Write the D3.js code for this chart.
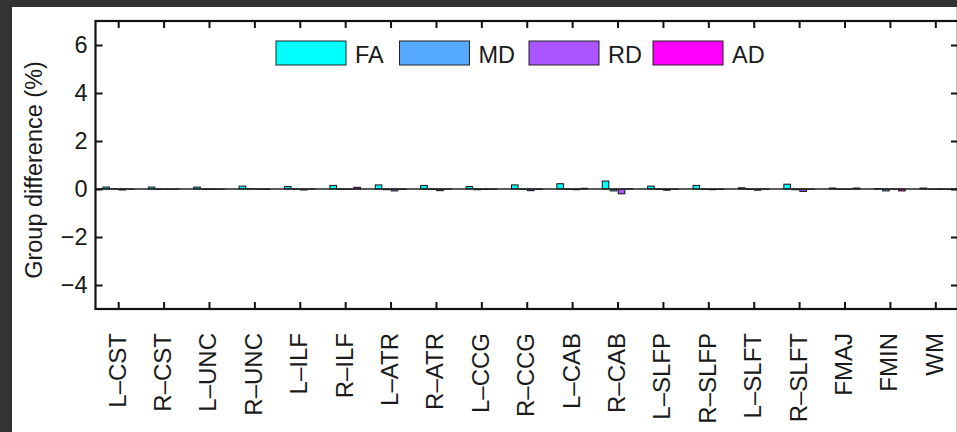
<!DOCTYPE html>
<html>
<head>
<meta charset="utf-8">
<script src="https://cdn.jsdelivr.net/npm/d3@7"></script>
<style>
  body { margin: 0; background: #333; }
  svg { display: block; font-family: "Liberation Sans", Arial, sans-serif; }
</style>
</head>
<body>
<div id="chart"></div>
<script>
// tract names along the x axis
var categories = ["L\u2013CST","R\u2013CST","L\u2013UNC","R\u2013UNC","L\u2013ILF","R\u2013ILF","L\u2013ATR","R\u2013ATR",
  "L\u2013CCG","R\u2013CCG","L\u2013CAB","R\u2013CAB","L\u2013SLFP","R\u2013SLFP","L\u2013SLFT","R\u2013SLFT","FMAJ","FMIN","WM"];

// group differences (%)
var faVals = [0.08, 0.08, 0.08, 0.12, 0.10, 0.15, 0.17, 0.15, 0.10, 0.17, 0.22, 0.33, 0.12, 0.15, 0.05, 0.20, 0.04, 0.02, 0.04];
var mdVals = [0.01, -0.02, -0.02, 0.01, -0.01, -0.02, -0.03, -0.02, -0.03, -0.02, -0.02, -0.08, -0.02, -0.02, -0.02, -0.03, -0.01, -0.08, -0.01];
var rdVals = [-0.04, -0.01, -0.02, -0.01, -0.04, -0.01, -0.08, -0.07, -0.02, -0.07, -0.03, -0.20, -0.05, -0.03, -0.05, -0.10, -0.01, -0.01, -0.02];
var adVals = [-0.01, -0.01, -0.01, -0.02, -0.01, 0.07, -0.02, -0.01, -0.01, -0.02, 0.03, 0.01, -0.01, -0.02, -0.01, -0.01, 0.04, -0.08, -0.01];

var seriesNames = ["FA", "MD", "RD", "AD"];
var seriesColors = ["#00ffff", "#55aaff", "#aa55ff", "#ff00ff"];
var yTicks = [-4, -2, 0, 2, 4, 6];

var series = [faVals, mdVals, rdVals, adVals];

var W = 957, H = 432;
var plotL = 95.5, plotR = 958, plotT = 21, plotB = 309;

var svg = d3.select("#chart").append("svg")
  .attr("width", W)
  .attr("height", H);

// dark frame + white panel
svg.append("rect").attr("width", W).attr("height", H).attr("fill", "#333");
svg.append("rect").attr("x", 12).attr("y", 7).attr("width", W - 12).attr("height", H - 7).attr("fill", "#fff");
svg.append("line").attr("x1", 956.5).attr("x2", 956.5).attr("y1", 7).attr("y2", H)
  .attr("stroke", "#ccc").attr("stroke-width", 1);

var x = d3.scaleLinear().domain([0.5, 19.5]).range([plotL, plotR]);
var y = d3.scaleLinear().domain([-5, 7]).range([plotB, plotT]);

var unit = x(1) - x(0);
var barW = 0.145 * unit;
var offsets = [-0.264, -0.088, 0.088, 0.264];

// bars
series.forEach(function(vals, s) {
  svg.append("g")
    .selectAll("rect")
    .data(vals)
    .enter().append("rect")
      .attr("x", function(d, i) { return x(i + 1 + offsets[s]) - barW / 2; })
      .attr("y", function(d) { return y(Math.max(0, d)); })
      .attr("width", barW)
      .attr("height", function(d) { return Math.abs(y(d) - y(0)); })
      .attr("fill", seriesColors[s])
      .attr("stroke", "#111")
      .attr("stroke-width", 1);
});

// baseline
svg.append("line")
  .attr("x1", plotL).attr("x2", plotR)
  .attr("y1", y(0)).attr("y2", y(0))
  .attr("stroke", "#222").attr("stroke-width", 1.5);

var idx = d3.range(1, categories.length + 1);

// left axis
var yAxis = d3.axisLeft(y).tickValues(yTicks).tickSizeInner(-7).tickSizeOuter(0).tickPadding(8);
var gy = svg.append("g").attr("transform", "translate(" + plotL + ",0)").call(yAxis);

// right axis, ticks only
svg.append("g").attr("transform", "translate(" + plotR + ",0)")
  .call(d3.axisRight(y).tickValues(yTicks).tickSizeInner(-7).tickSizeOuter(0).tickFormat(""));

// top axis, ticks only
svg.append("g").attr("transform", "translate(0," + plotT + ")")
  .call(d3.axisTop(x).tickValues(idx).tickSizeInner(-7).tickSizeOuter(0).tickFormat(""));

// bottom axis
var xAxis = d3.axisBottom(x).tickValues(idx).tickSizeInner(-7).tickSizeOuter(0)
  .tickFormat(function(i) { return categories[i - 1]; });
var gx = svg.append("g").attr("transform", "translate(0," + plotB + ")").call(xAxis);

gx.selectAll("text")
  .attr("transform", "rotate(-90)")
  .attr("x", -24)
  .attr("y", 7)
  .attr("dy", 0)
  .style("text-anchor", "end")
  .style("font-size", "24px")
  .attr("fill", "#1a1a1a");

gy.selectAll("text")
  .style("font-size", "23.5px")
  .attr("fill", "#1a1a1a");

svg.selectAll(".domain").remove();
svg.selectAll(".tick line").attr("stroke", "#111").attr("stroke-width", 2);

// box
svg.append("rect")
  .attr("x", plotL).attr("y", plotT)
  .attr("width", plotR - plotL).attr("height", plotB - plotT)
  .attr("fill", "none").attr("stroke", "#111").attr("stroke-width", 2.2);

// y label
svg.append("text")
  .attr("transform", "translate(42,170) rotate(-90)")
  .style("text-anchor", "middle")
  .style("font-size", "23.5px")
  .attr("fill", "#1a1a1a")
  .text("Group difference (%)");

// legend
var legX = [276, 399.5, 529, 653];
var leg = svg.append("g");
seriesNames.forEach(function(n, s) {
  leg.append("rect")
    .attr("x", legX[s]).attr("y", 41)
    .attr("width", 70).attr("height", 24)
    .attr("fill", seriesColors[s])
    .attr("stroke", "#222").attr("stroke-width", 1);
  leg.append("text")
    .attr("x", legX[s] + 79).attr("y", 62.5)
    .style("font-size", "23.5px")
    .attr("fill", "#1a1a1a")
    .text(n);
});
</script>
</body>
</html>
